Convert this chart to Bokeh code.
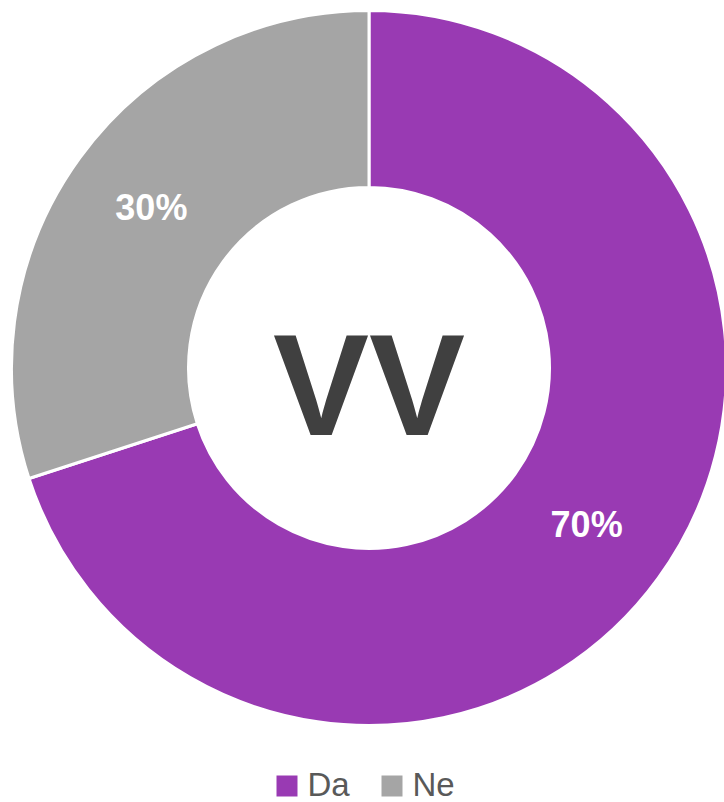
import math
from bokeh.plotting import figure
from bokeh.models import Range1d, ColumnDataSource
from bokeh.core.properties import value
from bokeh.embed import file_html
from bokeh.resources import INLINE

# ---- data ----
categories = ["Da", "Ne"]
values = [70, 30]
colors = ["#993AB3", "#A5A5A5"]
center_title = "VV"

W, H = 724, 802
p = figure(width=W, height=H, output_backend="svg", toolbar_location=None,
           x_range=Range1d(0, W), y_range=Range1d(0, H), min_border=0)
p.axis.visible = False
p.grid.visible = False
p.outline_line_color = None
p.background_fill_color = "white"
p.border_fill_color = "white"

# geometry (screen coords -> data: y = H - sy)
cx, cy = 368.5, H - 367.5
r_out, r_in = 357.5, 180.5

total = sum(values)
starts, ends, lx, ly, labels = [], [], [], [], []
a = math.pi / 2
for v in values:
    sweep = 2 * math.pi * v / total
    starts.append(a - sweep)
    ends.append(a)
    mid = a - sweep / 2
    rm = (r_in + r_out) / 2
    lx.append(cx + rm * math.cos(mid))
    ly.append(cy + rm * math.sin(mid) + 2)
    labels.append(f"{round(100 * v / total)}%")
    a -= sweep

src = ColumnDataSource(dict(start=starts, end=ends, color=colors, lx=lx, ly=ly, label=labels))
p.annular_wedge(x=cx, y=cy, inner_radius=r_in, outer_radius=r_out,
                start_angle="start", end_angle="end", fill_color="color",
                line_color="white", line_width=3, source=src,
                inner_radius_units="screen", outer_radius_units="screen")

p.text(x="lx", y="ly", text="label", source=src, text_color="white",
       text_font=value("Liberation Sans"), text_font_style="bold",
       text_font_size="36px", text_align="center", text_baseline="middle")

p.text(x=[cx], y=[H - 385], text=[center_title], text_color="#404040",
       text_font=value("Liberation Sans"), text_font_style="bold",
       text_font_size="144px", text_align="center", text_baseline="middle")

# legend
leg_x = [276, 381]
leg_cy = H - 785.5
p.rect(x=[x + 10.5 for x in leg_x], y=[leg_cy] * 2, width=21, height=21,
       width_units="screen", height_units="screen", fill_color=colors, line_color=None)
p.text(x=[x + 31 for x in leg_x], y=[H - 784] * 2, text=categories,
       text_color="#595959", text_font=value("Liberation Sans"),
       text_font_size="33px", text_align="left", text_baseline="middle")

open("out.html", "w").write(file_html(p, INLINE))
